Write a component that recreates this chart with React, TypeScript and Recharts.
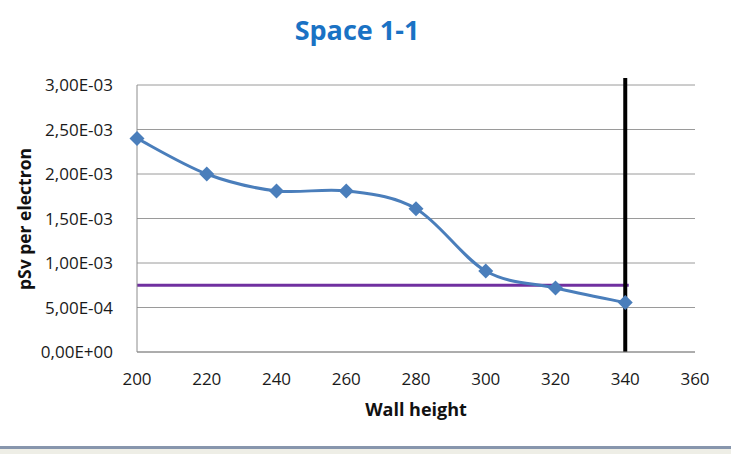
import { LineChart, Line, XAxis, YAxis, CartesianGrid, ReferenceLine } from 'recharts'

const wallHeights = [200, 220, 240, 260, 280, 300, 320, 340]
const dosePerElectron = [0.0024, 0.002, 0.00181, 0.00181, 0.00161, 0.00091, 0.00072, 0.000555]
const xTicks = [200, 220, 240, 260, 280, 300, 320, 340, 360]
const yTicks = [0, 0.0005, 0.001, 0.0015, 0.002, 0.0025, 0.003]
const limitDose = 0.00075
const limitWall = 340
const limitTop = 0.00308

const data = wallHeights.map((h, i) => ({ h, dose: dosePerElectron[i] }))

const FONT = '"Open Sans", "Liberation Sans", sans-serif'

// excel-style smoothed line (catmull-rom as bezier)
const excelSmooth = (context: any) => {
  let pts: number[][] = []
  return {
    areaStart() {},
    areaEnd() {},
    lineStart() { pts = [] },
    point(x: number, y: number) { pts.push([+x, +y]) },
    lineEnd() {
      if (!pts.length) return
      context.moveTo(pts[0][0], pts[0][1])
      for (let i = 0; i < pts.length - 1; i++) {
        const p0 = pts[i - 1] || pts[i]
        const p1 = pts[i]
        const p2 = pts[i + 1]
        const p3 = pts[i + 2] || p2
        context.bezierCurveTo(
          p1[0] + (p2[0] - p0[0]) / 6, p1[1] + (p2[1] - p0[1]) / 6,
          p2[0] - (p3[0] - p1[0]) / 6, p2[1] - (p3[1] - p1[1]) / 6,
          p2[0], p2[1],
        )
      }
    },
  }
}

const fmtExp = (v: number) => {
  const [m, e] = v.toExponential(2).split('e')
  const n = parseInt(e, 10)
  const sign = n < 0 ? '-' : '+'
  return `${m.replace('.', ',')}E${sign}${String(Math.abs(n)).padStart(2, '0')}`
}

const Diamond = (props: any) => {
  const { cx, cy, index } = props
  const r = 7.5
  return (
    <polygon
      key={`d-${index}`}
      points={`${cx},${cy - r} ${cx + r},${cy} ${cx},${cy + r} ${cx - r},${cy}`}
      fill="#4a7ebb"
    />
  )
}

export default function App() {
  return (
    <div style={{ position: 'fixed', left: 0, top: 0, width: 731, height: 454, background: '#fff', fontFamily: FONT }}>
      <div style={{ position: 'absolute', left: 357, top: 29, transform: 'translate(-50%, -50%)', whiteSpace: 'nowrap', fontSize: 27, fontWeight: 700, color: '#1a72c4' }}>
        Space 1-1
      </div>
      <LineChart width={731} height={454} data={data} margin={{ top: 85, right: 36, bottom: 72, left: 0 }}>
        <CartesianGrid vertical={false} stroke="#9a9a9a" />
        <XAxis
          dataKey="h"
          type="number"
          domain={[200, 360]}
          ticks={xTicks}
          tickLine={false}
          stroke="#8c8c8c"
          height={30}
          tick={{ fill: '#1a1a1a', fontSize: 17, fontFamily: FONT }}
          tickMargin={15}
        />
        <YAxis
          type="number"
          domain={[0, 0.003]}
          ticks={yTicks}
          width={137}
          tickLine={false}
          stroke="#8c8c8c"
          tickFormatter={fmtExp}
          tick={{ fill: '#1a1a1a', fontSize: 17, fontFamily: FONT }}
          tickMargin={18}
        />
        <ReferenceLine
          segment={[{ x: 200, y: limitDose }, { x: limitWall + 1, y: limitDose }]}
          stroke="#7030a0"
          strokeWidth={3}
        />
        <Line
          dataKey="dose"
          type={excelSmooth as any}
          stroke="#4a7ebb"
          strokeWidth={3}
          dot={Diamond}
          activeDot={false}
          isAnimationActive={false}
        />
        <ReferenceLine
          segment={[{ x: limitWall, y: 0 }, { x: limitWall, y: limitTop }]}
          stroke="#000"
          strokeWidth={4}
          ifOverflow="visible"
        />
      </LineChart>
      <div style={{ position: 'absolute', left: 24, top: 219, transform: 'translate(-50%, -50%) rotate(-90deg)', whiteSpace: 'nowrap', fontSize: 17.5, fontWeight: 700, color: '#111' }}>
        pSv per electron
      </div>
      <div style={{ position: 'absolute', left: 416, top: 409, transform: 'translate(-50%, -50%)', whiteSpace: 'nowrap', fontSize: 18, fontWeight: 700, color: '#111' }}>
        Wall height
      </div>
      <div style={{ position: 'absolute', left: 0, top: 446, width: 731, height: 3, background: '#8796ad' }} />
      <div style={{ position: 'absolute', left: 0, top: 449, width: 731, height: 5, background: '#eeeee6' }} />
    </div>
  )
}
